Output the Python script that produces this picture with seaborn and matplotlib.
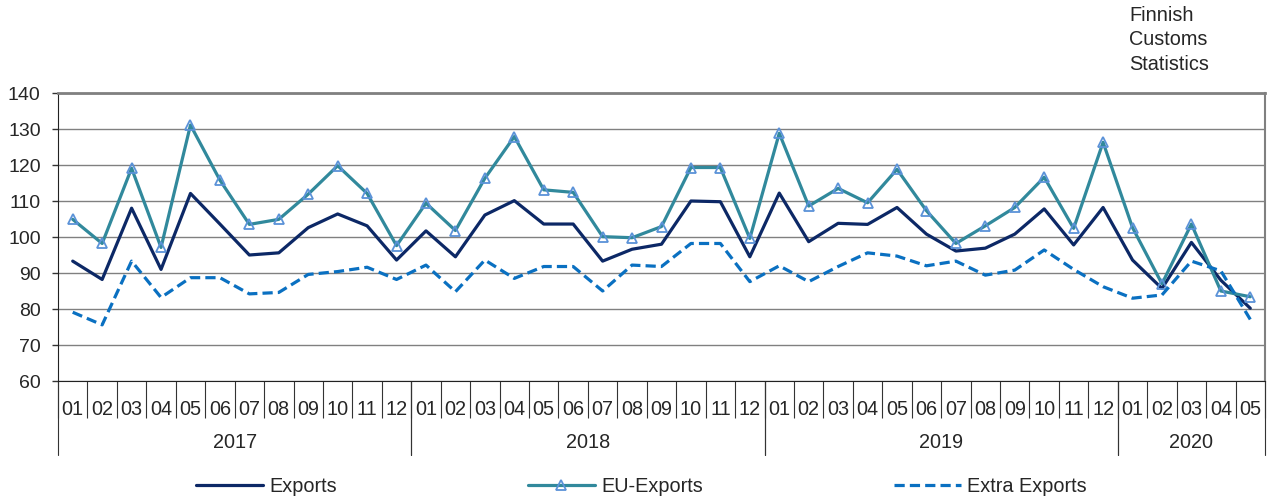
import seaborn as sns
import pandas as pd
import numpy as np
import matplotlib
matplotlib.use("Agg")
import matplotlib.pyplot as plt

sns.set_style("white")
plt.rcParams['font.family'] = ['Liberation Sans', 'DejaVu Sans']

years = ["2017", "2018", "2019", "2020"]
months_per_year = [12, 12, 12, 5]
month_labels = ["%02d" % m for n in months_per_year for m in range(1, n + 1)]

exports = [93.3, 88.2, 108.0, 91.0, 112.1, 103.6, 95.0, 95.6, 102.6, 106.4, 103.1, 93.6,
           101.7, 94.5, 106.1, 110.1, 103.6, 103.6, 93.3, 96.6, 98.0, 110.0, 109.8, 94.5,
           112.2, 98.7, 103.8, 103.5, 108.2, 100.8, 96.1, 96.9, 100.8, 107.8, 97.8, 108.2,
           93.6, 85.7, 98.5, 88.0, 80.2]
eu_exports = [104.9, 98.2, 119.1, 97.1, 131.1, 115.8, 103.5, 104.9, 111.9, 119.8, 112.1, 97.6,
              109.4, 101.8, 116.3, 127.9, 113.1, 112.4, 100.1, 99.8, 102.9, 119.3, 119.3, 99.6,
              128.8, 108.6, 113.5, 109.5, 118.8, 107.3, 98.2, 103.1, 108.2, 116.6, 102.4, 126.3,
              102.6, 87.0, 103.6, 85.0, 83.4]
extra_exports = [79.1, 75.6, 93.3, 83.2, 88.7, 88.7, 84.2, 84.6, 89.6, 90.4, 91.6, 88.2,
                 92.2, 84.8, 93.6, 88.5, 91.8, 91.8, 85.0, 92.2, 91.8, 98.2, 98.2, 87.6,
                 92.0, 87.6, 91.8, 95.6, 94.7, 92.0, 93.3, 89.4, 90.8, 96.4, 91.0, 86.2,
                 83.0, 83.9, 93.3, 90.6, 77.1]

df = pd.DataFrame({"pos": np.arange(len(month_labels)), "Exports": exports,
                   "EU-Exports": eu_exports, "Extra Exports": extra_exports})

fs = 14.3

fig = plt.figure(figsize=(12.7, 4.99), dpi=100)
ax = fig.add_axes([58 / 1270, 1 - 381 / 499, (1265 - 58) / 1270, 288 / 499])

lw = 2.3
sns.lineplot(data=df, x="pos", y="Exports", ax=ax, color="#0c2866", linewidth=lw,
             label="Exports")
sns.lineplot(data=df, x="pos", y="EU-Exports", ax=ax, color="#31899c", linewidth=lw,
             marker="^", markersize=7, markerfacecolor="none", markeredgecolor="#5b92d8",
             markeredgewidth=1.3, label="EU-Exports")
sns.lineplot(data=df, x="pos", y="Extra Exports", ax=ax, color="#0a70c1", linewidth=lw,
             linestyle="--", label="Extra Exports")
ax.lines[-1].set_dashes((3.2, 1.6))

# y axis
ax.set_ylim(60, 140)
ax.set_yticks(range(60, 141, 10))
ax.yaxis.grid(True, color="#808080", linewidth=1)
ax.tick_params(axis="y", direction="out", length=4.5, width=1, color="#333333",
               labelsize=14, pad=8, left=True)
ax.set_ylabel("")

# x axis: months, with separators between them
n = len(month_labels)
ax.set_xlim(-0.5, n - 0.5)
ax.set_xticks(np.arange(n))
ax.set_xticklabels(month_labels, fontsize=fs)
ax.tick_params(axis="x", which="major", length=0, pad=13.5)
ax.set_xticks(np.arange(n + 1) - 0.5, minor=True)
ax.tick_params(axis="x", which="minor", direction="out", length=26.5, width=0.8,
               color="#333333", bottom=True)
ax.set_xlabel("")

# year groups
start = 0
for year, cnt in zip(years, months_per_year):
    for b in (start - 0.5, start + cnt - 0.5):
        ax.axvline(b, ymin=-(455 - 381) / 288, ymax=0, clip_on=False,
                   color="#333333", linewidth=0.8)
    ax.text(start + (cnt - 1) / 2, -(442 - 381) / 288, year, fontsize=fs,
            ha="center", va="center", transform=ax.get_xaxis_transform())
    start += cnt

for side in ["top", "right"]:
    ax.spines[side].set_color("#808080")
ax.spines["top"].set_linewidth(2)
ax.spines["right"].set_linewidth(1.5)
ax.spines["left"].set_color("#222222")
ax.spines["bottom"].set_color("#222222")

handles, labels = ax.get_legend_handles_labels()
ax.get_legend().remove()
fig.legend(handles, labels, loc="center", bbox_to_anchor=(0.505, 1 - 486 / 499), ncol=3,
           frameon=False, fontsize=fs, handlelength=3.4, columnspacing=9.6,
           handletextpad=0.3)

fig.text(1129 / 1270, 1 - 6 / 499, "Finnish\nCustoms\nStatistics", fontsize=fs,
         ha="left", va="top", linespacing=1.35)

fig.savefig("out.png", dpi=100)
